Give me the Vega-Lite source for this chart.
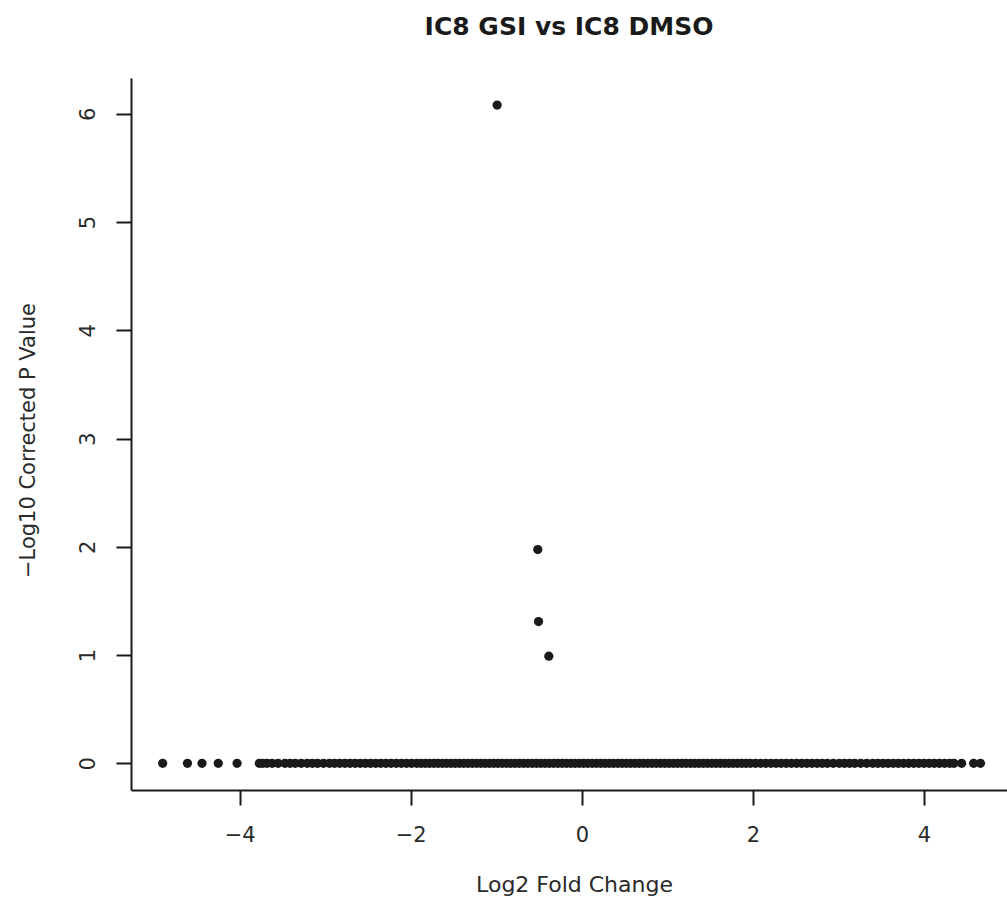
{
  "$schema": "https://vega.github.io/schema/vega-lite/v6.json",
  "autosize": {"type": "none"},
  "padding": {"left": 131, "top": 78, "right": 0, "bottom": 118},
  "width": 876,
  "height": 712,
  "background": "white",
  "title": {
    "text": "IC8 GSI vs IC8 DMSO",
    "font": "DejaVu Sans",
    "fontSize": 25,
    "fontWeight": "bold",
    "color": "#1a1a1a",
    "anchor": "middle",
    "offset": 38
  },
  "config": {
    "view": {"stroke": null},
    "axis": {
      "grid": false,
      "domainColor": "#1a1a1a",
      "domainWidth": 2,
      "tickColor": "#1a1a1a",
      "tickWidth": 2,
      "tickSize": 15,
      "labelFont": "DejaVu Sans",
      "labelFontSize": 21,
      "labelFontWeight": "normal",
      "labelColor": "#2a2a2a",
      "titleFont": "DejaVu Sans",
      "titleFontSize": 21,
      "titleFontWeight": "normal",
      "titleColor": "#2a2a2a"
    }
  },
  "data": {
    "values": [
      {"log2fc": -0.99, "neglog10p": 6.08},
      {"log2fc": -0.515, "neglog10p": 1.975},
      {"log2fc": -0.506, "neglog10p": 1.31},
      {"log2fc": -0.386, "neglog10p": 0.99},
      {"log2fc": -4.90, "neglog10p": 0},
      {"log2fc": -4.61, "neglog10p": 0},
      {"log2fc": -4.44, "neglog10p": 0},
      {"log2fc": -4.25, "neglog10p": 0},
      {"log2fc": -4.03, "neglog10p": 0},
      {"log2fc": -3.77, "neglog10p": 0},
      {"log2fc": -3.73, "neglog10p": 0},
      {"log2fc": -3.68, "neglog10p": 0},
      {"log2fc": -3.62, "neglog10p": 0},
      {"log2fc": -3.55, "neglog10p": 0},
      {"log2fc": -3.47, "neglog10p": 0},
      {"log2fc": -3.41, "neglog10p": 0},
      {"log2fc": -3.35, "neglog10p": 0},
      {"log2fc": -3.28, "neglog10p": 0},
      {"log2fc": -3.21, "neglog10p": 0},
      {"log2fc": -3.15, "neglog10p": 0},
      {"log2fc": -3.09, "neglog10p": 0},
      {"log2fc": -3.02, "neglog10p": 0},
      {"log2fc": -2.95, "neglog10p": 0},
      {"log2fc": -2.89, "neglog10p": 0},
      {"log2fc": -2.83, "neglog10p": 0},
      {"log2fc": -2.77, "neglog10p": 0},
      {"log2fc": -2.71, "neglog10p": 0},
      {"log2fc": -2.65, "neglog10p": 0},
      {"log2fc": -2.59, "neglog10p": 0},
      {"log2fc": -2.53, "neglog10p": 0},
      {"log2fc": -2.47, "neglog10p": 0},
      {"log2fc": -2.41, "neglog10p": 0},
      {"log2fc": -2.35, "neglog10p": 0},
      {"log2fc": -2.29, "neglog10p": 0},
      {"log2fc": -2.23, "neglog10p": 0},
      {"log2fc": -2.17, "neglog10p": 0},
      {"log2fc": -2.11, "neglog10p": 0},
      {"log2fc": -2.05, "neglog10p": 0},
      {"log2fc": -1.99, "neglog10p": 0},
      {"log2fc": -1.93, "neglog10p": 0},
      {"log2fc": -1.88, "neglog10p": 0},
      {"log2fc": -1.83, "neglog10p": 0},
      {"log2fc": -1.78, "neglog10p": 0},
      {"log2fc": -1.73, "neglog10p": 0},
      {"log2fc": -1.68, "neglog10p": 0},
      {"log2fc": -1.63, "neglog10p": 0},
      {"log2fc": -1.58, "neglog10p": 0},
      {"log2fc": -1.53, "neglog10p": 0},
      {"log2fc": -1.48, "neglog10p": 0},
      {"log2fc": -1.43, "neglog10p": 0},
      {"log2fc": -1.38, "neglog10p": 0},
      {"log2fc": -1.33, "neglog10p": 0},
      {"log2fc": -1.28, "neglog10p": 0},
      {"log2fc": -1.23, "neglog10p": 0},
      {"log2fc": -1.18, "neglog10p": 0},
      {"log2fc": -1.13, "neglog10p": 0},
      {"log2fc": -1.08, "neglog10p": 0},
      {"log2fc": -1.03, "neglog10p": 0},
      {"log2fc": -0.98, "neglog10p": 0},
      {"log2fc": -0.93, "neglog10p": 0},
      {"log2fc": -0.88, "neglog10p": 0},
      {"log2fc": -0.83, "neglog10p": 0},
      {"log2fc": -0.78, "neglog10p": 0},
      {"log2fc": -0.73, "neglog10p": 0},
      {"log2fc": -0.68, "neglog10p": 0},
      {"log2fc": -0.63, "neglog10p": 0},
      {"log2fc": -0.58, "neglog10p": 0},
      {"log2fc": -0.53, "neglog10p": 0},
      {"log2fc": -0.48, "neglog10p": 0},
      {"log2fc": -0.43, "neglog10p": 0},
      {"log2fc": -0.38, "neglog10p": 0},
      {"log2fc": -0.33, "neglog10p": 0},
      {"log2fc": -0.28, "neglog10p": 0},
      {"log2fc": -0.23, "neglog10p": 0},
      {"log2fc": -0.18, "neglog10p": 0},
      {"log2fc": -0.13, "neglog10p": 0},
      {"log2fc": -0.08, "neglog10p": 0},
      {"log2fc": -0.03, "neglog10p": 0},
      {"log2fc": 0.02, "neglog10p": 0},
      {"log2fc": 0.07, "neglog10p": 0},
      {"log2fc": 0.12, "neglog10p": 0},
      {"log2fc": 0.17, "neglog10p": 0},
      {"log2fc": 0.22, "neglog10p": 0},
      {"log2fc": 0.27, "neglog10p": 0},
      {"log2fc": 0.32, "neglog10p": 0},
      {"log2fc": 0.37, "neglog10p": 0},
      {"log2fc": 0.42, "neglog10p": 0},
      {"log2fc": 0.47, "neglog10p": 0},
      {"log2fc": 0.52, "neglog10p": 0},
      {"log2fc": 0.57, "neglog10p": 0},
      {"log2fc": 0.62, "neglog10p": 0},
      {"log2fc": 0.67, "neglog10p": 0},
      {"log2fc": 0.72, "neglog10p": 0},
      {"log2fc": 0.77, "neglog10p": 0},
      {"log2fc": 0.82, "neglog10p": 0},
      {"log2fc": 0.87, "neglog10p": 0},
      {"log2fc": 0.92, "neglog10p": 0},
      {"log2fc": 0.97, "neglog10p": 0},
      {"log2fc": 1.02, "neglog10p": 0},
      {"log2fc": 1.07, "neglog10p": 0},
      {"log2fc": 1.12, "neglog10p": 0},
      {"log2fc": 1.17, "neglog10p": 0},
      {"log2fc": 1.22, "neglog10p": 0},
      {"log2fc": 1.27, "neglog10p": 0},
      {"log2fc": 1.32, "neglog10p": 0},
      {"log2fc": 1.37, "neglog10p": 0},
      {"log2fc": 1.42, "neglog10p": 0},
      {"log2fc": 1.47, "neglog10p": 0},
      {"log2fc": 1.52, "neglog10p": 0},
      {"log2fc": 1.57, "neglog10p": 0},
      {"log2fc": 1.62, "neglog10p": 0},
      {"log2fc": 1.67, "neglog10p": 0},
      {"log2fc": 1.72, "neglog10p": 0},
      {"log2fc": 1.77, "neglog10p": 0},
      {"log2fc": 1.82, "neglog10p": 0},
      {"log2fc": 1.87, "neglog10p": 0},
      {"log2fc": 1.92, "neglog10p": 0},
      {"log2fc": 1.97, "neglog10p": 0},
      {"log2fc": 2.03, "neglog10p": 0},
      {"log2fc": 2.09, "neglog10p": 0},
      {"log2fc": 2.15, "neglog10p": 0},
      {"log2fc": 2.21, "neglog10p": 0},
      {"log2fc": 2.27, "neglog10p": 0},
      {"log2fc": 2.33, "neglog10p": 0},
      {"log2fc": 2.39, "neglog10p": 0},
      {"log2fc": 2.45, "neglog10p": 0},
      {"log2fc": 2.51, "neglog10p": 0},
      {"log2fc": 2.57, "neglog10p": 0},
      {"log2fc": 2.63, "neglog10p": 0},
      {"log2fc": 2.69, "neglog10p": 0},
      {"log2fc": 2.75, "neglog10p": 0},
      {"log2fc": 2.81, "neglog10p": 0},
      {"log2fc": 2.87, "neglog10p": 0},
      {"log2fc": 2.94, "neglog10p": 0},
      {"log2fc": 3.01, "neglog10p": 0},
      {"log2fc": 3.07, "neglog10p": 0},
      {"log2fc": 3.13, "neglog10p": 0},
      {"log2fc": 3.19, "neglog10p": 0},
      {"log2fc": 3.26, "neglog10p": 0},
      {"log2fc": 3.33, "neglog10p": 0},
      {"log2fc": 3.40, "neglog10p": 0},
      {"log2fc": 3.46, "neglog10p": 0},
      {"log2fc": 3.52, "neglog10p": 0},
      {"log2fc": 3.58, "neglog10p": 0},
      {"log2fc": 3.64, "neglog10p": 0},
      {"log2fc": 3.70, "neglog10p": 0},
      {"log2fc": 3.76, "neglog10p": 0},
      {"log2fc": 3.82, "neglog10p": 0},
      {"log2fc": 3.88, "neglog10p": 0},
      {"log2fc": 3.94, "neglog10p": 0},
      {"log2fc": 4.00, "neglog10p": 0},
      {"log2fc": 4.06, "neglog10p": 0},
      {"log2fc": 4.12, "neglog10p": 0},
      {"log2fc": 4.18, "neglog10p": 0},
      {"log2fc": 4.24, "neglog10p": 0},
      {"log2fc": 4.30, "neglog10p": 0},
      {"log2fc": 4.35, "neglog10p": 0},
      {"log2fc": 4.44, "neglog10p": 0},
      {"log2fc": 4.58, "neglog10p": 0},
      {"log2fc": 4.66, "neglog10p": 0}
    ]
  },
  "mark": {"type": "point", "filled": true, "shape": "circle", "size": 85, "color": "#1a1a1a", "opacity": 1},
  "encoding": {
    "x": {
      "field": "log2fc",
      "type": "quantitative",
      "scale": {"domain": [-5.27, 4.97], "nice": false, "zero": false},
      "axis": {
        "values": [-4, -2, 0, 2, 4],
        "title": "Log2 Fold Change",
        "labelBaseline": "top",
        "labelPadding": 19,
        "titleFontSize": 22,
        "titleX": 443,
        "titleY": 94,
        "titleBaseline": "middle",
        "titleAlign": "center"
      }
    },
    "y": {
      "field": "neglog10p",
      "type": "quantitative",
      "scale": {"domain": [-0.246, 6.33], "nice": false, "zero": false},
      "axis": {
        "values": [0, 1, 2, 3, 4, 5, 6],
        "title": "−Log10 Corrected P Value",
        "labelAngle": -90,
        "labelAlign": "center",
        "labelBaseline": "bottom",
        "labelPadding": 18,
        "titleX": -103,
        "titleY": 362,
        "titleAngle": -90,
        "titleBaseline": "middle",
        "titleAlign": "center"
      }
    }
  }
}
